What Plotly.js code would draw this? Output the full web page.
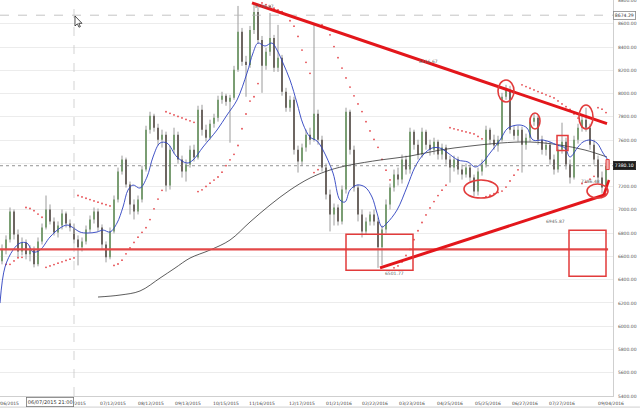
<!DOCTYPE html>
<html>
<head>
<meta charset="utf-8">
<script src="https://cdn.plot.ly/plotly-3.0.1.min.js"></script>
<style>
  html, body { margin: 0; padding: 0; background: #fff; }
  #chart { width: 640px; height: 410px; }
</style>
</head>
<body>
<div id="chart"></div>
<script>
// Daily price bars, indexed from 0 (left) to 151 (last bar)
const barOpen = [
  6558, 6661, 6746, 6986, 6789, 6643, 6720, 6618, 6661, 6532,
  6729, 6849, 7004, 6901, 6806, 6866, 6969, 6883, 6849, 6746,
  6678, 6729, 6832, 6918, 6986, 6849, 6703, 6592, 6815, 7090,
  7330, 7433, 7218, 7047, 6986, 7090, 7347, 7690, 7810, 7707,
  7604, 7647, 7210, 7518, 7647, 7433, 7330, 7390, 7518, 7450,
  7862, 7690, 7621, 7741, 7793, 7947, 7982, 7930, 7964, 8205,
  8531, 8273, 8247, 8548, 8702, 8462, 8239, 8359, 8479, 8222,
  8308, 8016, 7879, 7947, 7518, 7416, 7536, 7647, 7604, 7827,
  7604, 7364, 7132, 6961, 7021, 6901, 7175, 7844, 7518, 7192,
  6961, 6815, 6901, 6961, 6901, 6678, 6832, 7047, 7192, 7304,
  7261, 7433, 7347, 7673, 7561, 7476, 7673, 7561, 7518, 7587,
  7476, 7536, 7433, 7364, 7433, 7347, 7304, 7364, 7278, 7158,
  7330, 7390, 7690, 7604, 7553, 7604, 7973, 8033, 7690, 7638,
  7690, 7561, 7621, 7759, 7793, 7604, 7518, 7561, 7433, 7347,
  7518, 7587, 7390, 7278, 7604, 7707, 7776, 7707, 7561, 7433,
  7278, 7192
];
const barHigh = [
  6703, 6781, 7021, 7004, 6832, 6763, 6746, 6695, 6686, 6763,
  6883, 7124, 7047, 6935, 6901, 7004, 6986, 6918, 6883, 6781,
  6763, 6866, 6952, 7021, 7012, 6875, 6729, 6849, 7124, 7364,
  7467, 7450, 7244, 7090, 7124, 7381, 7724, 7844, 7827, 7741,
  7690, 7673, 7553, 7707, 7673, 7467, 7433, 7553, 7561, 7896,
  7904, 7733, 7776, 7827, 7982, 8016, 7999, 7990, 8239, 8754,
  8565, 8325, 8582, 8779.87, 8736, 8496, 8393, 8693, 8505, 8591,
  8333, 8050, 7982, 7973, 7553, 7570, 7690, 7707, 8590, 7862,
  7638, 7398, 7175, 7055, 7047, 7210, 7879, 7862, 7553, 7218,
  7004, 6935, 6986, 7004, 6935, 6866, 7090, 7227, 7347, 7364,
  7476, 7467, 7707, 7690, 7604, 7707, 7690, 7604, 7621, 7604,
  7570, 7561, 7467, 7467, 7458, 7390, 7398, 7390, 7304, 7364,
  7433, 7724, 7707, 7647, 7638, 8007, 8076, 8067, 7724, 7724,
  7716, 7656, 7793, 7827, 7810, 7638, 7596, 7587, 7476, 7553,
  7750, 7621, 7433, 7638, 7741, 7810, 7879, 7741, 7604, 7467,
  7330, 7407
];
const barLow = [
  6532, 6618, 6720, 6746, 6592, 6609, 6575, 6558, 6506, 6515,
  6703, 6832, 6875, 6780, 6763, 6832, 6849, 6815, 6712, 6523,
  6643, 6703, 6806, 6883, 6815, 6661, 6549, 6575, 6798, 7064,
  7304, 7192, 6961, 6918, 6961, 7064, 7330, 7656, 7673, 7553,
  7536, 7158, 7175, 7484, 7398, 7278, 7244, 7364, 7416, 7433,
  7639, 7587, 7604, 7707, 7759, 7913, 7896, 7578, 7947, 8187,
  8239, 7973, 8222, 8513, 8428, 8007, 8205, 8325, 8187, 8187,
  7982, 7844, 7844, 7476, 7321, 7381, 7501, 7561, 7587, 7561,
  7330, 7090, 6815, 6866, 6866, 6875, 7141, 7476, 7158, 6901,
  6763, 6789, 6866, 6866, 6501.77, 6523, 6798, 7004, 7158, 7210,
  7227, 7304, 7312, 7518, 7433, 7450, 7518, 7467, 7476, 7433,
  7433, 7390, 7235, 7330, 7304, 7261, 7278, 7244, 7115, 7124,
  7295, 7364, 7561, 7518, 7501, 7587, 7947, 7656, 7604, 7587,
  7321, 7518, 7587, 7724, 7561, 7476, 7467, 7390, 7304, 7321,
  7484, 7347, 7227, 7261, 7570, 7673, 7673, 7518, 7390, 7227,
  7141, 7158
];
const barClose = [
  6661, 6746, 6986, 6789, 6643, 6720, 6618, 6661, 6532, 6729,
  6849, 7004, 6901, 6806, 6866, 6969, 6883, 6849, 6746, 6678,
  6729, 6832, 6918, 6986, 6849, 6703, 6592, 6815, 7090, 7330,
  7433, 7218, 7047, 6986, 7090, 7347, 7690, 7810, 7707, 7604,
  7647, 7210, 7518, 7647, 7433, 7330, 7390, 7518, 7450, 7862,
  7690, 7621, 7741, 7793, 7947, 7982, 7930, 7964, 8205, 8531,
  8273, 8247, 8548, 8702, 8462, 8239, 8359, 8479, 8222, 8308,
  8016, 7879, 7947, 7518, 7416, 7536, 7647, 7604, 7827, 7604,
  7364, 7132, 6961, 7021, 6901, 7175, 7844, 7518, 7192, 6961,
  6815, 6901, 6961, 6901, 6678, 6832, 7047, 7192, 7304, 7261,
  7433, 7347, 7673, 7561, 7476, 7673, 7561, 7518, 7587, 7476,
  7536, 7433, 7364, 7433, 7347, 7304, 7364, 7278, 7158, 7330,
  7390, 7690, 7604, 7553, 7604, 7973, 8033, 7690, 7638, 7690,
  7561, 7621, 7759, 7793, 7604, 7518, 7561, 7433, 7347, 7518,
  7587, 7390, 7278, 7604, 7707, 7776, 7707, 7561, 7433, 7278,
  7192, 7380.10
];

// Short moving average (blue), sampled along the bar index
const fastMaIdx = [
  -0.5, 0.75, 2.75, 4.5, 6.25, 7.75, 9.5, 12, 14.5, 16.25,
  17.5, 19.5, 21.25, 23.75, 25.25, 27, 28.75, 30.25, 31.5, 32.75,
  34.5, 36.25, 37.75, 39.5, 41.25, 43.75, 46.25, 47.75, 50.25, 53.75,
  56.25, 58.75, 61.25, 62.75, 64, 65.75, 67.5, 68.75, 70.25, 72,
  73.75, 75.25, 77, 78.75, 80.25, 82.75, 84.5, 85.75, 87, 88.75,
  90.75, 92.5, 93.75, 95, 96.25, 98.75, 101.25, 103.25, 105.25, 107.5,
  109.5, 111.5, 114, 116.5, 118.25, 120, 122, 124.5, 126.5, 129.5,
  131.25, 132.75, 135.25, 137, 138.75, 140.75, 142, 144, 145.25, 147,
  148.75, 150.25, 151.5
];
const fastMaVal = [
  6199, 6509, 6655, 6715, 6715, 6638, 6655, 6767, 6844, 6870,
  6853, 6810, 6801, 6810, 6827, 6810, 6887, 7025, 7171, 7214,
  7188, 7283, 7455, 7575, 7575, 7455, 7403, 7429, 7541, 7687,
  7816, 7945, 8177, 8349, 8435, 8409, 8435, 8375, 8263, 8117,
  7919, 7739, 7627, 7592, 7515, 7317, 7085, 7068, 7171, 7214,
  7197, 7111, 6973, 6853, 6887, 6999, 7197, 7369, 7472, 7532,
  7532, 7489, 7429, 7412, 7369, 7403, 7489, 7601, 7704, 7730,
  7704, 7601, 7601, 7584, 7558, 7532, 7455, 7541, 7584, 7601,
  7575, 7489, 7429
];

// Long moving average (black)
const slowMaIdx = [
  24, 29.5, 34.5, 39.5, 43.25, 47, 52, 57, 62, 67,
  72, 77, 82, 87, 94.5, 102, 109.5, 117, 124.5, 132,
  139.5, 145.75, 151.25
];
const slowMaVal = [
  6251, 6268, 6303, 6414, 6500, 6586, 6655, 6741, 6896, 7042,
  7171, 7274, 7343, 7386, 7429, 7463, 7515, 7549, 7575, 7584,
  7558, 7515, 7455
];

// Date labels along the bottom axis
const dateTickIdx = [1, 17.75, 27.75, 37.25, 46.5, 56, 65, 75, 84.25, 93.25,
  102.5, 112, 121.5, 130.75, 140, 152.25];
const dateTickText = ['05/06/2015', '06/09/2015', '07/12/2015', '08/12/2015',
  '09/13/2015', '10/15/2015', '11/16/2015', '12/17/2015', '01/21/2016',
  '02/22/2016', '03/23/2016', '04/25/2016', '05/25/2016', '06/27/2016',
  '07/27/2016', '09/04/2016'];

// Price scale levels on the right
const priceTicks = [5400, 5600, 5800, 6000, 6200, 6400, 6600, 6800, 7000, 7200,
  7400, 7600, 7800, 8000, 8200, 8400, 8600, 8800];

// Reference price levels
const supportLevel = 6661;
const markedHigh = 8674.29;
const lastPrice = 7380.10;
const cursorIdx = 18;
const cursorLabel = '06/07/2015 21:00';

// Trendlines: [startIdx, startPrice, endIdx, endPrice]
const upperTrend = [62.5, 8779.87, 151.25, 7742];
const lowerTrend = [94.5, 6501.77, 151, 7133];
const lowerHook = [150.25, 7111, 151.75, 7257];

// Marked zones: [idx0, idx1, price0, price1]
const boxZones = [
  [86, 102.75, 6481, 6790],
  [141.75, 151, 6430, 6825],
  [138.75, 141.5, 7510, 7639]
];
const ringZones = [
  [124, 128, 7928, 8117],
  [132, 134.5, 7696, 7833],
  [144.25, 147.75, 7696, 7902],
  [115.5, 124, 7102, 7257],
  [146.25, 151.5, 7102, 7223]
];
const lastBarMark = [151, 151.8, 7347, 7433];

// Price notes written on the chart: [idx, price, text]
const priceNotes = [
  [65.5, 8753, '8779.87'],
  [106.5, 8272, '8316.67'],
  [98, 6457, '6501.77'],
  [138.25, 6904, '6945.87'],
  [147, 7248, '7286.48']
];

const idx = barClose.map((_, i) => i);

// Parabolic stop-and-reverse computed from the bar highs and lows
function parabolicSar(high, low, step, maxStep) {
  const n = high.length;
  const out = new Array(n).fill(null);
  let up = true, af = step, ep = high[0], s = low[0];
  for (let i = 1; i < n; i++) {
    s = s + af * (ep - s);
    if (up) {
      s = Math.min(s, low[i - 1], low[Math.max(0, i - 2)]);
      if (low[i] < s) { up = false; s = ep; ep = low[i]; af = step; }
      else if (high[i] > ep) { ep = high[i]; af = Math.min(af + step, maxStep); }
    } else {
      s = Math.max(s, high[i - 1], high[Math.max(0, i - 2)]);
      if (high[i] > s) { up = true; s = ep; ep = high[i]; af = step; }
      else if (low[i] < ep) { ep = low[i]; af = Math.min(af + step, maxStep); }
    }
    out[i] = s;
  }
  return out;
}
const sar = parabolicSar(barHigh, barLow, 0.02, 0.2);

// Wick segments drawn beneath the candle bodies
const wickX = [], wickY = [];
idx.forEach(i => { wickX.push(i, i, null); wickY.push(barLow[i], barHigh[i], null); });

const RED = '#e3161b';
const FONT = 'DejaVu Sans, sans-serif';

const traces = [
  { type: 'scatter', mode: 'lines', x: wickX, y: wickY,
    line: { color: '#9a9a9a', width: 1 }, hoverinfo: 'skip', showlegend: false },
  { type: 'candlestick', x: idx, open: barOpen, high: barHigh, low: barLow, close: barClose,
    increasing: { fillcolor: '#58a04a', line: { color: '#58a04a', width: 0 } },
    decreasing: { fillcolor: '#3d2f26', line: { color: '#3d2f26', width: 0 } },
    whiskerwidth: 0, showlegend: false },
  { type: 'scatter', mode: 'markers', x: idx, y: sar,
    marker: { color: '#e5484d', size: 1.8 }, hoverinfo: 'skip', showlegend: false },
  { type: 'scatter', mode: 'lines', x: slowMaIdx, y: slowMaVal,
    line: { color: '#333', width: 0.8, shape: 'spline' }, showlegend: false },
  { type: 'scatter', mode: 'lines', x: fastMaIdx, y: fastMaVal,
    line: { color: '#2b3fbf', width: 0.9, shape: 'spline' }, showlegend: false }
];

const shapes = [
  // dashed level lines and cursor line
  { type: 'line', xref: 'paper', x0: 0, x1: 1, yref: 'y', y0: markedHigh, y1: markedHigh,
    line: { color: '#b5b5b5', width: 0.8, dash: 'dash' } },
  { type: 'line', xref: 'paper', x0: 0, x1: 1, yref: 'y', y0: lastPrice, y1: lastPrice,
    line: { color: '#777', width: 0.8, dash: 'dot' } },
  { type: 'line', xref: 'x', x0: cursorIdx, x1: cursorIdx, yref: 'paper', y0: 0, y1: 1,
    line: { color: '#c8c8c8', width: 0.8, dash: 'dash' } },
  // support level
  { type: 'line', xref: 'paper', x0: 0, x1: 0.992, yref: 'y', y0: supportLevel, y1: supportLevel,
    line: { color: '#e34848', width: 2.4 } },
  // trendlines
  { type: 'line', xref: 'x', yref: 'y', x0: upperTrend[0], y0: upperTrend[1], x1: upperTrend[2], y1: upperTrend[3],
    line: { color: RED, width: 3 } },
  { type: 'line', xref: 'x', yref: 'y', x0: lowerTrend[0], y0: lowerTrend[1], x1: lowerTrend[2], y1: lowerTrend[3],
    line: { color: RED, width: 3 } },
  { type: 'line', xref: 'x', yref: 'y', x0: lowerHook[0], y0: lowerHook[1], x1: lowerHook[2], y1: lowerHook[3],
    line: { color: RED, width: 2.5 } },
  // last bar marker
  { type: 'rect', xref: 'x', yref: 'y', x0: lastBarMark[0], x1: lastBarMark[1], y0: lastBarMark[2], y1: lastBarMark[3],
    line: { color: '#e23b3b', width: 1 }, fillcolor: '#f4b4b4' },
  // bottom border of the date strip
  { type: 'line', xref: 'paper', x0: 0, x1: 1.044, yref: 'paper', y0: -0.028, y1: -0.028,
    line: { color: '#cfcfcf', width: 1 } },
  // mouse pointer
  { type: 'path', xref: 'paper', yref: 'paper', xsizemode: 'pixel', ysizemode: 'pixel',
    xanchor: 0.1223, yanchor: 0.9596,
    path: 'M0,0 L0,-10 L2.4,-7.8 L4,-11.2 L5.4,-10.6 L3.8,-7.3 L7,-7.3 Z',
    fillcolor: '#fff', line: { color: '#222', width: 0.8 } }
];
boxZones.forEach(b => shapes.push({ type: 'rect', xref: 'x', yref: 'y',
  x0: b[0], x1: b[1], y0: b[2], y1: b[3], line: { color: '#e23b3b', width: 1.5 } }));
ringZones.forEach(r => shapes.push({ type: 'circle', xref: 'x', yref: 'y',
  x0: r[0], x1: r[1], y0: r[2], y1: r[3], line: { color: '#e23b3b', width: 1.6 } }));

const annotations = priceNotes.map(p => ({
  x: p[0], y: p[1], xref: 'x', yref: 'y', text: p[2], showarrow: false,
  font: { family: FONT, size: 4.5, color: '#666' }
}));
annotations.push(
  { xref: 'paper', x: 1, xanchor: 'left', yref: 'y', y: markedHigh, text: String(markedHigh),
    showarrow: false, bgcolor: '#fff', bordercolor: '#888', borderwidth: 0.8, borderpad: 1,
    font: { family: FONT, size: 4.6, color: '#333' } },
  { xref: 'paper', x: 1, xanchor: 'left', yref: 'y', y: lastPrice, text: lastPrice.toFixed(2),
    showarrow: false, bgcolor: '#1e1e1e', bordercolor: '#1e1e1e', borderwidth: 0.8, borderpad: 1,
    font: { family: FONT, size: 4.6, color: '#fff' } },
  { xref: 'x', x: cursorIdx, xanchor: 'right', yref: 'paper', y: 0, yanchor: 'top', yshift: -1,
    text: cursorLabel, showarrow: false, bgcolor: '#fff', bordercolor: '#777', borderwidth: 0.8, borderpad: 1,
    font: { family: FONT, size: 5, color: '#333' } }
);

// the 7400 level sits under the last-price tag, so its label is left blank
const priceTickText = priceTicks.map(v => (Math.abs(v - lastPrice) < 40 ? '' : v.toFixed(2)));

const layout = {
  width: 640, height: 410,
  margin: { l: 0, r: 27, t: 0, b: 14, pad: 0 },
  paper_bgcolor: '#fff', plot_bgcolor: '#fff',
  showlegend: false,
  font: { family: FONT, size: 4.5, color: '#555' },
  xaxis: {
    type: 'linear', range: [-0.5, 152.75], showgrid: false, zeroline: false,
    rangeslider: { visible: false }, fixedrange: true,
    tickmode: 'array', tickvals: dateTickIdx, ticktext: dateTickText,
    ticks: '', ticklabelstandoff: 3, ticklabeloverflow: 'allow',
    showline: true, linecolor: '#cfcfcf', linewidth: 1,
    tickfont: { family: FONT, size: 4.5, color: '#444' }
  },
  yaxis: {
    side: 'right', range: [5400, 8805],
    tickmode: 'array', tickvals: priceTicks, ticktext: priceTickText,
    showgrid: true, gridcolor: '#ececec', gridwidth: 1, zeroline: false,
    ticks: '', ticklabelstandoff: 3, ticklabeloverflow: 'allow',
    showline: true, linecolor: '#cfcfcf', linewidth: 1,
    tickfont: { family: FONT, size: 4.5, color: '#555' }
  },
  shapes: shapes,
  annotations: annotations
};

Plotly.newPlot('chart', traces, layout, { staticPlot: true, displayModeBar: false });
</script>
</body>
</html>
